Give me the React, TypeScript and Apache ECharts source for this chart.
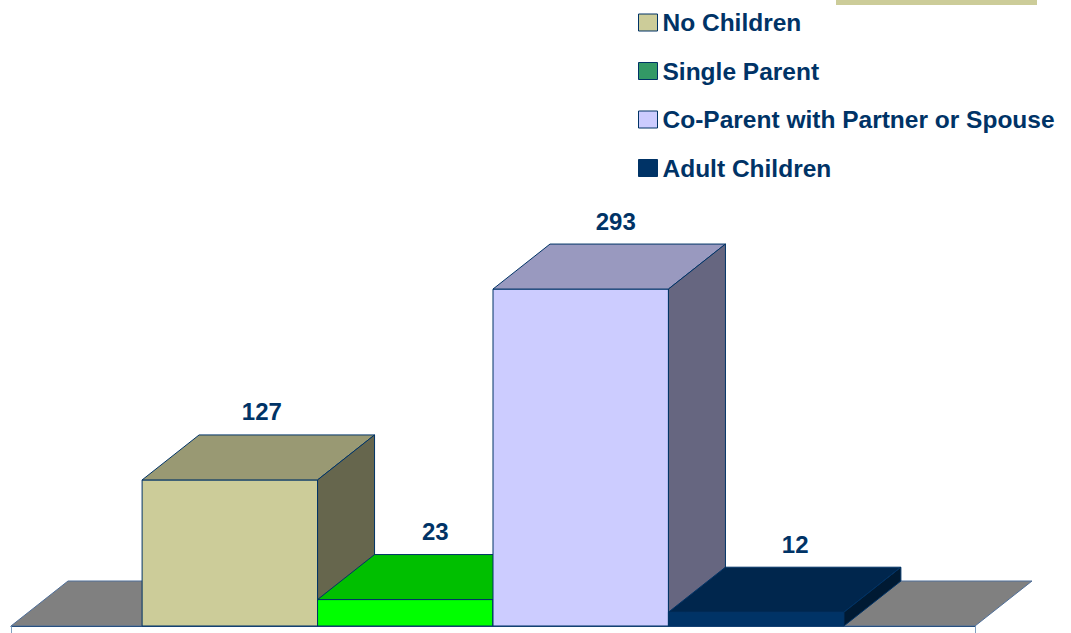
import React, { useEffect, useRef } from "react";
import * as echarts from "echarts";

const categories = [
  "No Children",
  "Single Parent",
  "Co-Parent with Partner or Spouse",
  "Adult Children",
];
const values = [127, 23, 293, 12];
const frontColors = ["#CCCC99", "#00FF00", "#CCCCFF", "#003366"];
const legendColors = ["#CCCC99", "#339966", "#CCCCFF", "#003366"];

const DX = 57;
const DY = -45;
const BAR_RATIO = 0.182;
const FONT = "'Liberation Sans', Arial, sans-serif";

function shade(hex: string, f: number): string {
  const n = parseInt(hex.slice(1), 16);
  const r = Math.round(((n >> 16) & 255) * f);
  const g = Math.round(((n >> 8) & 255) * f);
  const b = Math.round((n & 255) * f);
  return "rgb(" + r + "," + g + "," + b + ")";
}

export default function App() {
  const ref = useRef<HTMLDivElement>(null);
  useEffect(() => {
    if (!ref.current) return;
    const chart = echarts.init(ref.current, undefined, { renderer: "svg" });

    const floorSeries: any = {
      type: "custom",
      name: "floor",
      data: [[0, 0]],
      renderItem: (params: any, api: any) => {
        const base = api.coord([0, 0]);
        const band = api.size([1, 0])[0];
        const x0 = base[0] - band / 2;
        const x1 = base[0] + band / 2;
        const y = base[1];
        return {
          type: "polygon",
          shape: {
            points: [
              [x0, y],
              [x1, y],
              [x1 + DX, y + DY],
              [x0 + DX, y + DY],
            ],
          },
          style: { fill: "#808080", stroke: "#4f6f99", lineWidth: 1 },
        };
      },
    };

    const labelShift = [32, 30, 35, 39];

    const barSeries = categories.map((name, i) => ({
      type: "custom",
      name,
      itemStyle: { color: legendColors[i] },
      data: [[0, values[i]]],
      renderItem: (params: any, api: any) => {
        const base = api.coord([0, 0]);
        const top = api.coord([0, api.value(1)]);
        const band = api.size([1, 0])[0];
        const w = band * BAR_RATIO;
        const x0 = base[0] - 2 * w + i * w;
        const x1 = x0 + w;
        const yb = base[1];
        const yt = top[1];
        const c = frontColors[i];
        const stroke = { stroke: "#003366", lineWidth: 1 };
        return {
          type: "group",
          children: [
            {
              type: "polygon",
              shape: { points: [[x0, yb], [x1, yb], [x1, yt], [x0, yt]] },
              style: { fill: c, ...stroke },
            },
            {
              type: "polygon",
              shape: {
                points: [[x0, yt], [x1, yt], [x1 + DX, yt + DY], [x0 + DX, yt + DY]],
              },
              style: { fill: shade(c, 0.75), ...stroke },
            },
            {
              type: "polygon",
              shape: {
                points: [[x1, yb], [x1 + DX, yb + DY], [x1 + DX, yt + DY], [x1, yt]],
              },
              style: { fill: shade(c, 0.5), ...stroke },
            },
            {
              type: "text",
              style: {
                x: x0 + w / 2 + labelShift[i],
                y: yt + DY - 23,
                text: String(api.value(1)),
                fill: "#003366",
                font: "bold 24px " + FONT,
                align: "center",
                verticalAlign: "middle",
              },
            },
          ],
        };
      },
    }));

    chart.setOption({
      animation: false,
      backgroundColor: "#ffffff",
      grid: { left: 11, right: 96, top: 51, bottom: 7 },
      xAxis: {
        type: "category",
        data: [""],
        boundaryGap: true,
        axisLine: { show: true, lineStyle: { color: "#003366", width: 1 } },
        axisTick: { show: true, length: 7, lineStyle: { color: "#7f9fc0" } },
        axisLabel: { show: false },
        splitLine: { show: false },
      },
      yAxis: {
        type: "value",
        min: 0,
        max: 500,
        show: false,
        splitLine: { show: false },
      },
      legend: {
        orient: "vertical",
        left: 638,
        top: 10,
        padding: 0,
        itemWidth: 19,
        itemHeight: 17,
        itemGap: 23.5,
        icon: "rect",
        selectedMode: false,
        data: categories.map((name, i) => ({
          name,
          itemStyle: { color: legendColors[i], borderColor: "#003366", borderWidth: 1 },
        })),
        textStyle: {
          color: "#003366",
          fontWeight: "bold",
          fontSize: 24.5,
          lineHeight: 24,
          fontFamily: FONT,
          padding: [0, 0, 0, 0],
        },
      },
      graphic: [
        {
          type: "rect",
          shape: { x: 836, y: 0, width: 201, height: 5 },
          style: { fill: "#CCCC99" },
        },
      ],
      series: [floorSeries, ...barSeries],
    });
    return () => chart.dispose();
  }, []);
  return (
    <div
      ref={ref}
      style={{ position: "absolute", left: 0, top: 0, width: 1071, height: 633 }}
    />
  );
}
